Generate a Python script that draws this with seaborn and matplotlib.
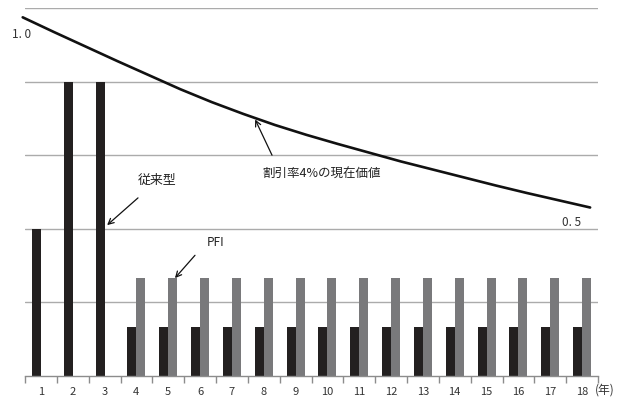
import matplotlib
matplotlib.use("Agg")
import matplotlib.pyplot as plt
import seaborn as sns
import pandas as pd
import numpy as np

# ---- data ----
years = list(range(1, 19))
conventional = [2, 4, 4] + [2 / 3] * 15          # 従来型
pfi = [0, 0, 0] + [4 / 3] * 15                   # PFI
pv_years = list(range(0, 19))
pv_values = [1.000, 0.961, 0.923, 0.885, 0.848, 0.811, 0.777, 0.746, 0.717,
             0.691, 0.667, 0.644, 0.621, 0.600, 0.579, 0.558, 0.538, 0.519, 0.500]
series_names = ["従来型", "PFI"]
tick_labels = [str(y) for y in years]

sns.set_style("white")
plt.rcParams['font.family'] = ['Noto Sans CJK JP', 'DejaVu Sans']

df = pd.DataFrame({
    "year": years * 2,
    "value": conventional + pfi,
    "series": [series_names[0]] * len(years) + [series_names[1]] * len(years),
})

W, H = 622, 401
fig = plt.figure(figsize=(W / 100, H / 100), dpi=100)
L, R, T, B = 25, 598, 8, 376
ax = fig.add_axes([L / W, 1 - B / H, (R - L) / W, (B - T) / H])

sns.barplot(data=df, x="year", y="value", hue="series", hue_order=series_names,
            palette={"従来型": "#231f20", "PFI": "#79797b"}, width=0.566, gap=0,
            linewidth=0, legend=False, ax=ax, zorder=2)

ax.set_xlim(-0.5, 17.5)
ax.set_ylim(0, 5)
ax.set_yticks([1, 2, 3, 4, 5])
ax.yaxis.grid(True, color="#ababab", linewidth=1.0, zorder=0)
ax.set_axisbelow(True)
ax.tick_params(axis="y", left=False, labelleft=False)
for s in ["left", "right", "top"]:
    ax.spines[s].set_visible(False)
ax.spines["bottom"].set_color("#8c8c8c")
ax.spines["bottom"].set_linewidth(1.0)
ax.set_xticks(range(18))
ax.set_xticklabels(tick_labels, fontsize=8, color="#333333")
ax.set_xticks(np.arange(-0.5, 18, 1), minor=True)
ax.tick_params(axis="x", which="major", bottom=False, length=0, pad=8)
ax.tick_params(axis="x", which="minor", bottom=True, length=5, color="#8c8c8c",
               width=1, direction="out")
ax.set_xlabel("")
ax.set_ylabel("")

# present-value line on an overlay axes
ax2 = fig.add_axes(ax.get_position(), facecolor="none")
sns.lineplot(x=pv_years, y=pv_values, ax=ax2, color="#111111", linewidth=1.9)
for ln in ax2.lines:
    ln.set_clip_on(False)
    ln.set_solid_joinstyle("round")
ax2.set_xlim(0.073, 18.25)
ax2.set_ylim(0.057, 1.0245)
ax2.axis("off")

# annotations
arrow = dict(arrowstyle="->", color="#111111", linewidth=0.9, shrinkA=0, shrinkB=0)
ax.text(3.66, 2.66, "従来型", fontsize=9.3, ha="center", va="center", color="#222222")
ax.annotate("", xy=(2.08, 2.05), xytext=(3.05, 2.42), arrowprops=arrow)
ax.text(5.5, 1.81, "PFI", fontsize=8.5, ha="center", va="center", color="#222222")
ax.annotate("", xy=(4.21, 1.33), xytext=(4.84, 1.64), arrowprops=arrow)
ax.text(8.81, 2.745, "割引率4%の現在価値", fontsize=9, ha="center", va="center", color="#222222")
ax.annotate("", xy=(6.73, 3.485), xytext=(7.26, 3.0), arrowprops=arrow)

fig.text(22 / W, 1 - 35 / H, "1. 0", fontsize=8.5, ha="center", va="center", color="#333333")
fig.text(571.5 / W, 1 - 222.5 / H, "0. 5", fontsize=8.5, ha="center", va="center", color="#333333")
fig.text(605 / W, 1 - 390 / H, "(年)", fontsize=8.5, ha="center", va="center", color="#333333")

fig.savefig("out.png", dpi=100)
